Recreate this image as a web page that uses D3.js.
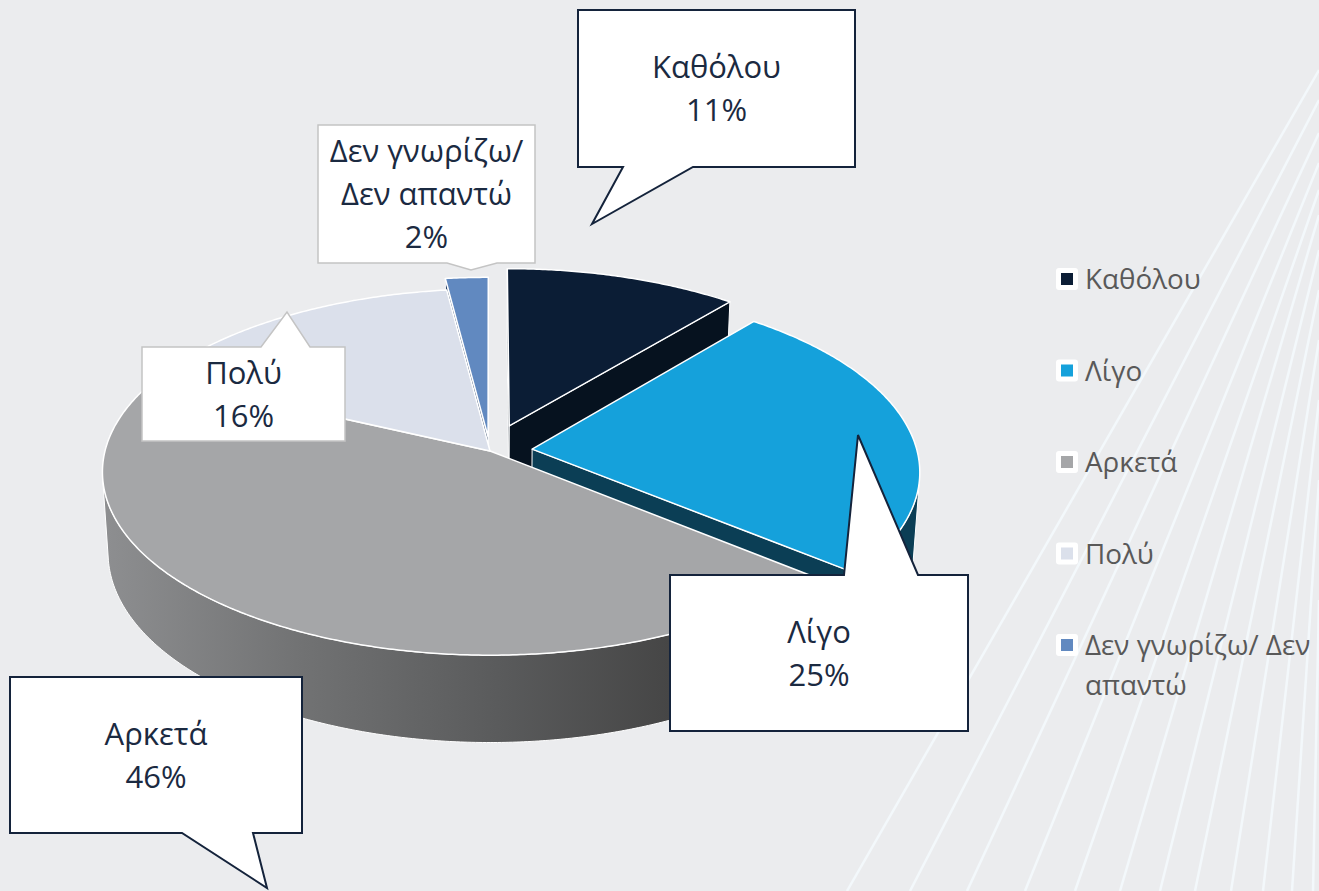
<!DOCTYPE html>
<html>
<head>
<meta charset="utf-8">
<script src="https://cdn.jsdelivr.net/npm/d3@7"></script>
<style>
  body { margin: 0; background: #ebecee; }
  svg { display: block; font-family: "Open Sans", sans-serif; }
</style>
</head>
<body>
<div id="chart"></div>
<script>
var categories = ["Καθόλου", "Λίγο", "Αρκετά", "Πολύ", "Δεν γνωρίζω/ Δεν απαντώ"];
var values = [11, 25, 46, 16, 2];
var topColors = ["#0b1d35", "#15a1db", "#a5a6a8", "#dbe0eb", "#6189c0"];
var wallColors = ["#06121f", "#0b3e55", "url(#wallGrad)", "#9ea3ad", "#2c4468"];
var explode = [0.15, 0.11, 0, 0, 0.08];

// callout boxes: [x, y, w, h], pointer side, base x's, tip
var callouts = [
  { box: [578, 10, 277, 157], side: "bottom", b1: 623, b2: 693, tip: [592, 224], stroke: "#14233b", sw: 2 },
  { box: [670, 575, 298, 156], side: "top", b1: 844, b2: 918, tip: [858, 435], stroke: "#14233b", sw: 2 },
  { box: [10, 677, 292, 156], side: "bottom", b1: 182, b2: 253, tip: [267, 888], stroke: "#14233b", sw: 2 },
  { box: [142, 347, 203, 94], side: "top", b1: 261, b2: 310, tip: [287, 312], stroke: "#c4c4c4", sw: 1.5 },
  { box: [318, 125, 217, 138], side: "bottom", b1: 447, b2: 497, tip: [471, 270], stroke: "#c4c4c4", sw: 1.5 }
];

// decorative background lines: [y where it meets right edge, x where it meets bottom]
var bgLines = [[70, 847], [100, 910], [133, 967], [163, 1025], [190, 1075], [215, 1120],
               [250, 1160], [290, 1195], [340, 1231], [400, 1263], [480, 1292], [600, 1313]];

var W = 1319, H = 891;
var svg = d3.select("#chart").append("svg").attr("width", W).attr("height", H);

var defs = svg.append("defs");
var grad = defs.append("linearGradient").attr("id", "wallGrad")
  .attr("gradientUnits", "userSpaceOnUse").attr("x1", 100).attr("x2", 850).attr("y1", 0).attr("y2", 0);
[[0, "#8e8f91"], [0.27, "#717273"], [0.53, "#5a5b5c"], [0.77, "#454545"], [1, "#393939"]].forEach(function (s) {
  grad.append("stop").attr("offset", s[0]).attr("stop-color", s[1]);
});

svg.append("rect").attr("width", W).attr("height", H).attr("fill", "#ebecee");

svg.append("g").selectAll("line").data(bgLines).enter().append("line")
  .attr("x1", W).attr("y1", function (d) { return d[0]; })
  .attr("x2", function (d) { return d[1]; }).attr("y2", H)
  .attr("stroke", "#f3f8fb").attr("stroke-width", 2.5);

// ---- 3D pie projection ----
var cx = 490, cy = 451, S = 385, k = 0.13, phi = 28 * Math.PI / 180, depth = 0.24;
var sinP = Math.sin(phi), cosP = Math.cos(phi);
var cam = [0, sinP / k, cosP / k];

function proj(p) {
  var d = 1 - k * (p[1] * sinP + p[2] * cosP);
  return [cx + S * p[0] / d, cy - S * (p[1] * cosP - p[2] * sinP) / d, d];
}
function dir(t) { return [Math.sin(t), 0, -Math.cos(t)]; }
function tan(t) { return [Math.cos(t), 0, Math.sin(t)]; }
function add(a, b) { return [a[0] + b[0], a[1] + b[1], a[2] + b[2]]; }
function sub(a, b) { return [a[0] - b[0], a[1] - b[1], a[2] - b[2]]; }
function dot(a, b) { return a[0] * b[0] + a[1] * b[1] + a[2] * b[2]; }
function down(p) { return [p[0], p[1] - depth, p[2]]; }

var pie = d3.pie().sort(null).value(function (d) { return d; });
var arcs = pie(values);

var walls = [], tops = [];
var step = Math.PI / 360;

arcs.forEach(function (a, i) {
  var mid = (a.startAngle + a.endAngle) / 2;
  var o = dir(mid).map(function (v) { return v * explode[i]; });
  var n = Math.max(2, Math.ceil((a.endAngle - a.startAngle) / step));
  var rim = d3.range(n + 1).map(function (j) {
    var t = a.startAngle + (a.endAngle - a.startAngle) * j / n;
    return { t: t, p: add(o, dir(t)) };
  });

  tops.push({ i: i, pts: [o].concat(rim.map(function (r) { return r.p; })) });

  // radial faces
  var ps = add(o, dir(a.startAngle)), pe = add(o, dir(a.endAngle));
  if (dot(sub(cam, o), tan(a.startAngle).map(function (v) { return -v; })) > 0)
    walls.push({ i: i, pts: [o, ps, down(ps), down(o)] });
  if (dot(sub(cam, o), tan(a.endAngle)) > 0)
    walls.push({ i: i, pts: [o, pe, down(pe), down(o)] });

  // outer wall, visible runs only
  var run = [];
  rim.forEach(function (r, j) {
    var vis = dot(sub(cam, r.p), dir(r.t)) > 0;
    if (vis) run.push(r.p);
    if ((!vis || j === rim.length - 1) && run.length > 1) {
      walls.push({ i: i, pts: run.concat(run.slice().reverse().map(down)) });
    }
    if (!vis) run = [];
  });
});

var line = d3.line();
function shape(f) {
  var pr = f.pts.map(proj);
  f.depth = d3.mean(pr, function (p) { return p[2]; });
  f.path = line(pr.map(function (p) { return [p[0], p[1]]; })) + "Z";
  return f;
}
walls.forEach(shape);
tops.forEach(shape);
walls.sort(function (a, b) { return b.depth - a.depth; });

var pieG = svg.append("g");
pieG.selectAll("path.wall").data(walls).enter().append("path")
  .attr("class", "wall")
  .attr("d", function (d) { return d.path; })
  .attr("fill", function (d) { return wallColors[d.i]; })
  .attr("stroke", "#ffffff").attr("stroke-width", 1).attr("stroke-linejoin", "round");
pieG.selectAll("path.top").data(tops).enter().append("path")
  .attr("class", "top")
  .attr("d", function (d) { return d.path; })
  .attr("fill", function (d) { return topColors[d.i]; })
  .attr("stroke", "#ffffff").attr("stroke-width", 1.5).attr("stroke-linejoin", "round");

// ---- text wrapping helper ----
function wrapWords(text, size, maxW) {
  var t = svg.append("text").attr("font-size", size);
  var words = text.split(" "), lines = [], cur = "";
  words.forEach(function (w) {
    var test = cur ? cur + " " + w : w;
    t.text(test);
    if (t.node().getComputedTextLength() > maxW && cur) { lines.push(cur); cur = w; }
    else cur = test;
  });
  lines.push(cur);
  t.remove();
  return lines;
}

// ---- callouts ----
var cFont = 31, cLine = 43;
var cg = svg.append("g");
callouts.forEach(function (c, i) {
  var x = c.box[0], y = c.box[1], w = c.box[2], h = c.box[3];
  var p;
  if (c.side === "bottom") {
    p = "M" + x + "," + y + "H" + (x + w) + "V" + (y + h) + "H" + c.b2 +
        "L" + c.tip[0] + "," + c.tip[1] + "L" + c.b1 + "," + (y + h) + "H" + x + "Z";
  } else {
    p = "M" + x + "," + y + "H" + c.b1 + "L" + c.tip[0] + "," + c.tip[1] +
        "L" + c.b2 + "," + y + "H" + (x + w) + "V" + (y + h) + "H" + x + "Z";
  }
  cg.append("path").attr("d", p).attr("fill", "#ffffff")
    .attr("stroke", c.stroke).attr("stroke-width", c.sw).attr("stroke-linejoin", "miter");

  var lines = wrapWords(categories[i], cFont, w - 20).concat([values[i] + "%"]);
  var midY = y + h / 2;
  var txt = cg.append("text").attr("text-anchor", "middle")
    .attr("font-size", cFont).attr("fill", "#1b2a41");
  lines.forEach(function (l, j) {
    txt.append("tspan").attr("x", x + w / 2)
      .attr("y", midY + (j - (lines.length - 1) / 2) * cLine + 11)
      .text(l);
  });
});

// ---- legend ----
var lg = svg.append("g");
var lx = 1056, ly0 = 289, lstep = 91.5, lFont = 27.8;
categories.forEach(function (c, i) {
  var by = ly0 + i * lstep;
  lg.append("rect").attr("x", lx).attr("y", by - 21).attr("width", 22).attr("height", 22)
    .attr("rx", 3).attr("fill", "#ffffff");
  lg.append("rect").attr("x", lx + 5).attr("y", by - 16).attr("width", 12).attr("height", 12)
    .attr("fill", topColors[i]);
  var lines = wrapWords(c, lFont, W - (lx + 29) - 2);
  var t = lg.append("text").attr("font-size", lFont).attr("fill", "#595959");
  lines.forEach(function (l, j) {
    t.append("tspan").attr("x", lx + 29).attr("y", by + j * 40).text(l);
  });
});
</script>
</body>
</html>
